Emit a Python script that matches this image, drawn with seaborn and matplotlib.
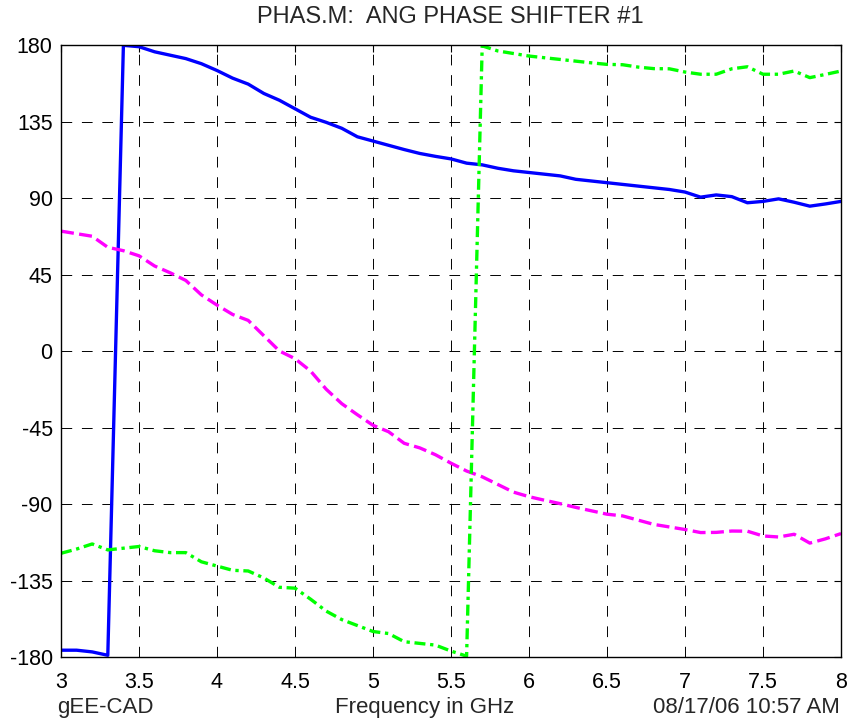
import pandas as pd
import matplotlib
matplotlib.use("Agg")
import matplotlib.pyplot as plt
import seaborn as sns

# Frequency points (GHz)
freq = [3.0, 3.1, 3.2, 3.3, 3.4, 3.5, 3.6, 3.7, 3.8, 3.9,
        4.0, 4.1, 4.2, 4.3, 4.4, 4.5, 4.6, 4.7, 4.8, 4.9,
        5.0, 5.1, 5.2, 5.3, 5.4, 5.5, 5.6, 5.7, 5.8, 5.9,
        6.0, 6.1, 6.2, 6.3, 6.4, 6.5, 6.6, 6.7, 6.8, 6.9,
        7.0, 7.1, 7.2, 7.3, 7.4, 7.5, 7.6, 7.7, 7.8, 7.9, 8.0]

# Phase traces (deg)
phase_blue = [-176, -176, -177, -179, 179.8, 179, 176, 174, 172, 169,
              165, 160.5, 157, 151.5, 147.5, 142.5, 137.5, 134.5, 131, 126,
              123.5, 121, 118.5, 116.2, 114.5, 113, 110.5, 109.5, 107.5, 106,
              105, 104, 103, 101, 100, 99, 98, 97, 96, 95,
              93.5, 90.5, 91.8, 90.8, 87.2, 88, 89.5, 87.5, 85.2, 86.5, 88]

phase_magenta = [70.5, 69, 67.5, 61, 59, 56, 50, 46, 41.5, 33,
                 27, 21.5, 18, 9, 0, -4.5, -11.8, -22.5, -31, -37.5,
                 -43.7, -47.5, -54.3, -57, -61, -66, -70.6, -74, -78.5, -83,
                 -85.7, -87.8, -89.8, -92, -94, -96, -97, -99.5, -102, -103.5,
                 -105, -106.8, -106.7, -105.9, -106, -108.8, -109.4, -107.8, -113, -110.5, -107.4]

phase_green = [-119, -116.5, -113.5, -117, -116, -115, -117.5, -118.6, -118.6, -124,
               -126.5, -129, -129.4, -133.5, -139, -139.5, -146, -153, -158, -161.5,
               -165, -166.2, -171, -172, -173, -176.5, -179.5, 179.5, 176.5, 175,
               173.5, 172.5, 171.5, 170.5, 169.5, 168.6, 168.4, 167, 166.1, 166,
               164.1, 162.8, 162.8, 166, 167.2, 162.8, 162.8, 164.7, 160.8, 162.7, 164.7]

yticks = [-180, -135, -90, -45, 0, 45, 90, 135, 180]
xticks = [3, 3.5, 4, 4.5, 5, 5.5, 6, 6.5, 7, 7.5, 8]
xtick_labels = ["3", "3.5", "4", "4.5", "5", "5.5", "6", "6.5", "7", "7.5", "8"]

df = pd.concat([
    pd.DataFrame({"freq": freq, "phase": phase_blue, "trace": "blue"}),
    pd.DataFrame({"freq": freq, "phase": phase_magenta, "trace": "magenta"}),
    pd.DataFrame({"freq": freq, "phase": phase_green, "trace": "green"}),
])

sns.set_style("white")
plt.rcParams["font.family"] = ["Liberation Sans", "DejaVu Sans"]
plt.rcParams["axes.unicode_minus"] = False

fig = plt.figure(figsize=(8.49, 7.21), dpi=100)
ax = fig.add_axes([61 / 849, 1 - 657 / 721, 780 / 849, 612 / 721])

sns.lineplot(
    data=df, x="freq", y="phase", hue="trace", style="trace",
    palette={"blue": "#0000ff", "magenta": "#ff00ff", "green": "#00ff00"},
    dashes={"blue": "", "magenta": (3.9, 1.6), "green": (3.3, 1.4, 1.0, 1.4)},
    linewidth=2.4, legend=False, estimator=None, ax=ax
)

ax.set_xlim(3, 8)
ax.set_ylim(-180, 180)
ax.set_xticks(xticks)
ax.set_xticklabels(xtick_labels)
ax.set_yticks(yticks)
ax.set_xlabel("")
ax.set_ylabel("")
ax.grid(True, color="black", linestyle=(0, (11, 10)), linewidth=0.7)
ax.set_axisbelow(True)
for s in ax.spines.values():
    s.set_color("black")
    s.set_linewidth(1.0)
ax.tick_params(direction="in", length=5, width=0.8, top=True, right=True,
               labelsize=15.5, colors="black")
ax.tick_params(axis="x", pad=11)
ax.tick_params(axis="y", pad=6)

fig.text(450 / 849, 1 - 23 / 721, "PHAS.M:  ANG PHASE SHIFTER #1",
         ha="center", va="baseline", fontsize=17)
fig.text(57 / 849, 1 - 713 / 721, "gEE-CAD", ha="left", va="baseline", fontsize=16)
fig.text(425 / 849, 1 - 713 / 721, "Frequency in GHz", ha="center", va="baseline", fontsize=16)
fig.text(840 / 849, 1 - 713 / 721, "08/17/06 10:57 AM", ha="right", va="baseline", fontsize=16)

fig.savefig("out.png", dpi=100, facecolor="white")
